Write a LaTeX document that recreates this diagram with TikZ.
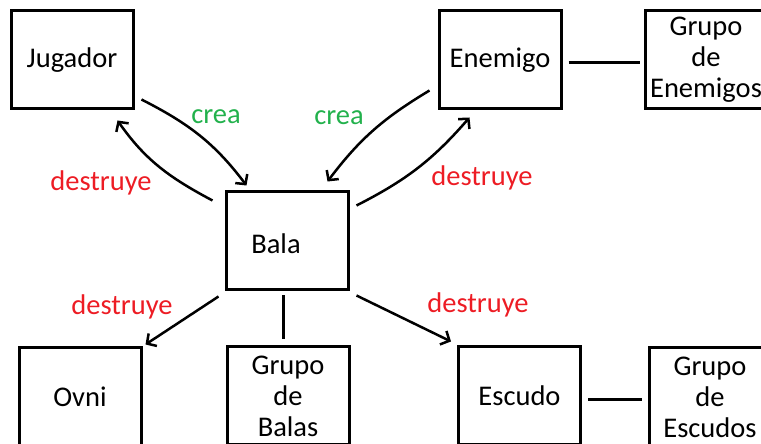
\documentclass[tikz,border=0pt]{standalone}
\usepackage{fontspec}
\setmainfont{Carlito}
\usepackage{tikz}
\usetikzlibrary{arrows.meta}
\colorlet{creacol}{rgb,255:red,34;green,177;blue,76}
\colorlet{destcol}{rgb,255:red,237;green,28;blue,36}

\begin{document}
\begin{tikzpicture}[x=1pt,y=1pt,
  box/.style={draw,line width=3pt,minimum width=122pt,minimum height=98pt,
    align=center,font=\fontsize{28.5}{31}\selectfont,inner sep=0pt},
  arr/.style={line width=2.5pt,-{Straight Barb[length=7pt,width=15pt,line width=2.5pt]}},
  link/.style={line width=3pt},
  crea/.style={text=creacol,font=\fontsize{28.5}{31}\selectfont},
  dest/.style={text=destcol,font=\fontsize{28.5}{31}\selectfont}]
\useasboundingbox (0,0) rectangle (761,444);
\clip (0,0) rectangle (761,444);
\node[box] (jug) at (72,384) {Jugador};
\node[box] (ene) at (500,384) {Enemigo};
\node[box] (genem) at (706,384) {Grupo\\de\\Enemigos};
\node[box,label={[xshift=-11pt,yshift=-3pt,font=\fontsize{28.5}{31}\selectfont]center:Bala}] (bala) at (287,203) {};
\node[box] (ovni) at (80,47) {\raisebox{-4pt}{Ovni}};
\node[box] (gbalas) at (288,48) {Grupo\\de\\Balas};
\node[box] (escudo) at (519.5,48) {\raisebox{-2pt}{Escudo}};
\node[box] (gesc) at (710,47) {Grupo\\de\\Escudos};
% arrows
\draw[arr] ([shift={(7,11)}]jug.south east) to[out=-27,in=127] ([shift={(22,5)}]bala.north west);
\draw[arr] ([shift={(-12,-10)}]bala.north west) to[out=152,in=-55] ([shift={(-17,-10)}]jug.south east);
\draw[arr] ([shift={(-8,20)}]ene.south west) to[out=-149,in=53] ([shift={(-22,9)}]bala.north east);
\draw[arr] ([shift={(7,-15)}]bala.north east) to[out=27,in=-131] ([shift={(32,-7)}]ene.south west);
\draw[arr] ([shift={(-6,-5)}]bala.south west) -- ([shift={(3,2)}]ovni.north east);
\draw[arr] ([shift={(7,-4)}]bala.south east) -- ([shift={(-6,4)}]escudo.north west);
% plain links
\draw[link] ([shift={(-4,-4)}]bala.south) -- ([shift={(-5,6)}]gbalas.north);
\draw[link] ([shift={(6,-3)}]ene.east) -- ([shift={(-4,-3)}]genem.west);
\draw[link] ([shift={(6,-4)}]escudo.east) -- ([shift={(-6,-3)}]gesc.west);
% labels
\node[crea] (c1) at (216,327) {crea};
\node[crea] (c2) at (339,326) {crea};
\node[dest] (d1) at (101,261) {destruye};
\node[dest] (d2) at (482,266) {destruye};
\node[dest] (d3) at (122,137) {destruye};
\node[dest] (d4) at (478,139) {destruye};
\end{tikzpicture}
\end{document}
